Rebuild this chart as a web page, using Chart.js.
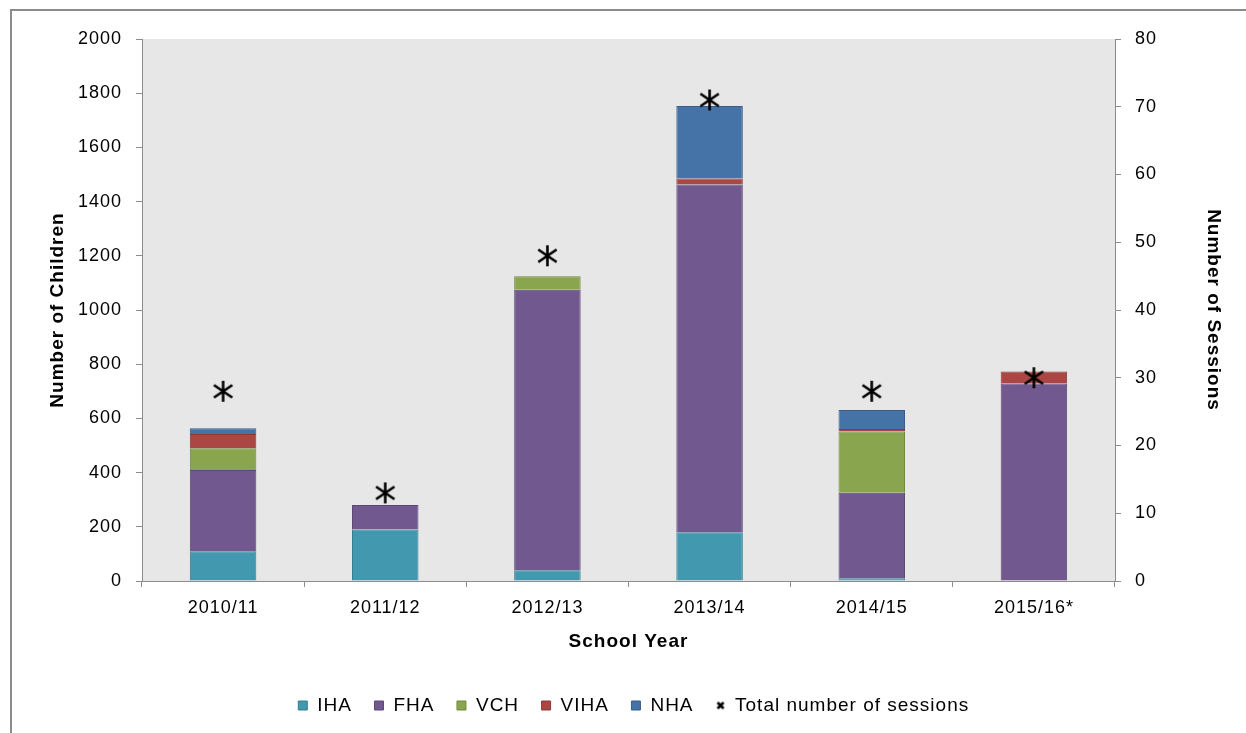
<!DOCTYPE html>
<html>
<head>
<meta charset="utf-8">
<script src="https://cdn.jsdelivr.net/npm/chart.js@4/dist/chart.umd.min.js"></script>
<style>
html,body{margin:0;padding:0;background:#fff;}
#frame{position:absolute;left:10px;top:9px;width:1250px;height:740px;border-left:2px solid #8c8c8c;border-top:2px solid #8c8c8c;box-sizing:border-box;}
#wrap{position:absolute;left:0;top:0;width:1246px;height:733px;}
</style>
</head>
<body>
<div id="frame"></div>
<div id="wrap"><canvas id="chart"></canvas></div>
<script>
// school years
const years=["2010/11","2011/12","2012/13","2013/14","2014/15","2015/16*"];

// children per health authority
const iha=[110,190,40,180,10,0];
const fha=[300,90,1035,1283,316,729];
const vch=[80,0,50,0,226,0];
const viha=[52,0,0,22,9,44];
const nha=[22,0,0,268,70,0];

// sessions (right axis)
const sessions=[28,13,48,71,28,30];

const FONT="'Liberation Sans', Arial, sans-serif";

// star marker like the excel one: X plus vertical bar
function makeStar(size,lw){
  const c=document.createElement("canvas");
  c.width=size;c.height=size;
  const g=c.getContext("2d");
  const m=size/2;
  g.strokeStyle="#000";
  g.lineWidth=lw;
  g.beginPath();
  g.moveTo(m,1);g.lineTo(m,size-1);
  g.moveTo(m-size*0.4,m-size*0.27);g.lineTo(m+size*0.4,m+size*0.27);
  g.moveTo(m-size*0.4,m+size*0.27);g.lineTo(m+size*0.4,m-size*0.27);
  g.stroke();
  return c;
}
function makeX(size,lw){
  const c=document.createElement("canvas");
  c.width=size;c.height=size;
  const g=c.getContext("2d");
  g.strokeStyle="#000";
  g.lineWidth=lw;
  g.beginPath();
  g.moveTo(2,2);g.lineTo(size-2,size-2);
  g.moveTo(2,size-2);g.lineTo(size-2,2);
  g.stroke();
  return c;
}
const starBig=makeStar(23,2.6);
const starSmall=makeX(10,2.6);

// grey plot area + slightly wider text like the original
const plotBg={
  id:"plotBg",
  beforeUpdate(chart){chart.ctx.letterSpacing="1px";},
  beforeDraw(chart){
    const a=chart.chartArea,ctx=chart.ctx;
    ctx.letterSpacing="1px";
    ctx.save();
    ctx.fillStyle="#e7e7e7";
    ctx.fillRect(a.left,a.top,a.right-a.left,a.bottom-a.top);
    ctx.restore();
  }
};

function bar(label,data,fill,border){
  return {type:"bar",label:label,data:data,backgroundColor:fill,borderColor:border,
    borderWidth:1,yAxisID:"y",stack:"s",order:1,pointStyle:"rect",
    barPercentage:0.41,categoryPercentage:1};
}

const plain=v=>String(v);

new Chart(document.getElementById("chart"),{
  data:{
    labels:years,
    datasets:[
      bar("IHA",iha,"#4198AF","#357D8F"),
      bar("FHA",fha,"#71588F","#5C4776"),
      bar("VCH",vch,"#89A54E","#71893F"),
      bar("VIHA",viha,"#AA4643","#8C3836"),
      bar("NHA",nha,"#4572A7","#385D8A"),
      {type:"line",label:"Total number of sessions",data:sessions,yAxisID:"y1",
        showLine:false,pointStyle:starBig,borderColor:"#000",backgroundColor:"#000",order:0}
    ]
  },
  options:{
    responsive:true,
    maintainAspectRatio:false,
    animation:false,
    layout:{padding:{left:40,right:19,top:39,bottom:8}},
    plugins:{
      legend:{
        position:"bottom",
        labels:{
          usePointStyle:true,
          boxWidth:10,boxHeight:9,
          padding:22,
          color:"#000",
          font:{family:FONT,size:19},
          sort:(a,b)=>a.datasetIndex-b.datasetIndex,
          generateLabels(chart){
            const items=Chart.defaults.plugins.legend.labels.generateLabels(chart);
            items.forEach(it=>{
              if(it.datasetIndex===5){it.pointStyle=starSmall;}
              else{it.lineWidth=1;}
            });
            return items;
          }
        }
      },
      tooltip:{enabled:false}
    },
    scales:{
      x:{
        stacked:true,
        grid:{drawOnChartArea:false,drawTicks:true,tickLength:6,color:"#8c8c8c",offset:true},
        border:{color:"#8c8c8c",width:1},
        ticks:{color:"#000",font:{family:FONT,size:18},padding:10},
        title:{display:true,text:"School Year",color:"#000",font:{family:FONT,size:19,weight:"bold"},padding:{top:4,bottom:21}},
        afterFit(s){s.height=93;}
      },
      y:{
        stacked:true,position:"left",min:0,max:2000,
        grid:{drawOnChartArea:false,drawTicks:true,tickLength:6,color:"#8c8c8c"},
        border:{color:"#8c8c8c",width:1},
        ticks:{stepSize:200,color:"#000",font:{family:FONT,size:18},padding:14,callback:plain},
        title:{display:true,text:"Number of Children",color:"#000",font:{family:FONT,size:19,weight:"bold"},padding:{top:6,bottom:4}},
        afterFit(s){s.width=102;}
      },
      y1:{
        position:"right",min:0,max:80,
        grid:{drawOnChartArea:false,drawTicks:true,tickLength:6,color:"#8c8c8c"},
        border:{color:"#8c8c8c",width:1},
        ticks:{stepSize:10,color:"#000",font:{family:FONT,size:18},padding:14,callback:plain},
        title:{display:true,text:"Number of Sessions",color:"#000",font:{family:FONT,size:19,weight:"bold"},padding:{top:2,bottom:4}},
        afterFit(s){s.width=112;}
      }
    }
  },
  plugins:[plotBg]
});
</script>
</body>
</html>
